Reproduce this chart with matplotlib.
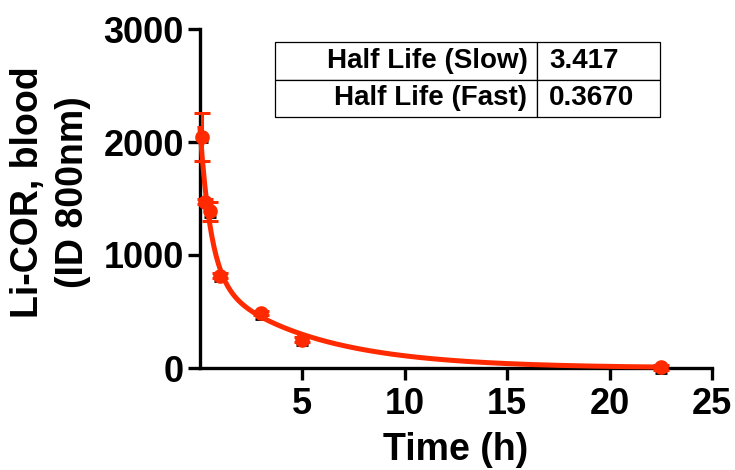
import numpy as np
import matplotlib
matplotlib.use("Agg")
import matplotlib.pyplot as plt

# blood clearance, Li-COR 800nm signal (mean +/- SD)
time_h = [0.083, 0.25, 0.5, 1, 3, 5, 22.5]
signal = [2045, 1472, 1385, 817, 485, 250, 5]
sd = [210, 20, 85, 20, 20, 20, 20]

# two phase decay fit
span_fast = 1300
span_slow = 820
half_fast = 0.3670
half_slow = 3.417
plateau = 0

table_rows = ["Half Life (Slow)", "Half Life (Fast)"]
table_vals = ["3.417", "0.3670"]

red = "#ff2a00"
plt.rcParams['font.family'] = ['Liberation Sans', 'DejaVu Sans']
plt.rcParams['font.weight'] = 'bold'

fig = plt.figure(figsize=(7.35, 4.7), dpi=100)
ax = fig.add_axes([200 / 735, 102 / 470, 512 / 735, 339 / 470])

tt = np.linspace(0, max(time_h), 400)
fit = (span_fast * np.exp(-np.log(2) / half_fast * tt)
       + span_slow * np.exp(-np.log(2) / half_slow * tt) + plateau)

# black lower caps peeking out under the markers
ax.errorbar(time_h, signal, yerr=[[48] * len(signal), [0] * len(signal)],
            fmt='none', ecolor='black', elinewidth=2, capsize=4, capthick=2,
            zorder=2, clip_on=False)
ax.errorbar(time_h, signal, yerr=sd, fmt='none', ecolor=red, elinewidth=2.2,
            capsize=5.5, capthick=2.2, zorder=3, clip_on=False)
ax.plot(tt, fit, color=red, lw=3.6, zorder=4, clip_on=False)
ax.plot(time_h, signal, 'o', color=red, ms=9.5, zorder=5, clip_on=False)

ax.set_xlim(0, 25)
ax.set_ylim(0, 3000)
ax.set_xticks([5, 10, 15, 20, 25])
ax.set_yticks([0, 1000, 2000, 3000])
for side in ['top', 'right']:
    ax.spines[side].set_visible(False)
for side in ['left', 'bottom']:
    ax.spines[side].set_linewidth(2.4)
ax.tick_params(axis='both', length=8.5, width=2.4, labelsize=26, pad=3)
ax.tick_params(axis='x', pad=5)
for lab in ax.get_xticklabels() + ax.get_yticklabels():
    lab.set_fontweight('bold')

ax.set_xlabel("Time (h)", fontsize=27, fontweight='bold')
ax.xaxis.set_label_coords(0.5, -0.19)
ax.set_ylabel("Li-COR, blood\n(ID 800nm)", fontsize=27, fontweight='bold',
              linespacing=1.35)
ax.yaxis.set_label_coords(-0.212, 0.52)

tab = ax.table(cellText=[[r, v] for r, v in zip(table_rows, table_vals)],
               colWidths=[0.68, 0.32], bbox=[0.146, 0.74, 0.752, 0.222])
tab.auto_set_font_size(False)
for (r, c), cell in tab.get_celld().items():
    cell.set_linewidth(0.9)
    cell.set_edgecolor('black')
    cell.get_text().set_fontsize(20)
    cell.get_text().set_fontweight('bold')
    if c == 0:
        cell.set_text_props(ha='right')
        cell.PAD = 0.035
    else:
        cell.set_text_props(ha='left')
        cell.PAD = 0.1

fig.savefig("out.png", dpi=100)
